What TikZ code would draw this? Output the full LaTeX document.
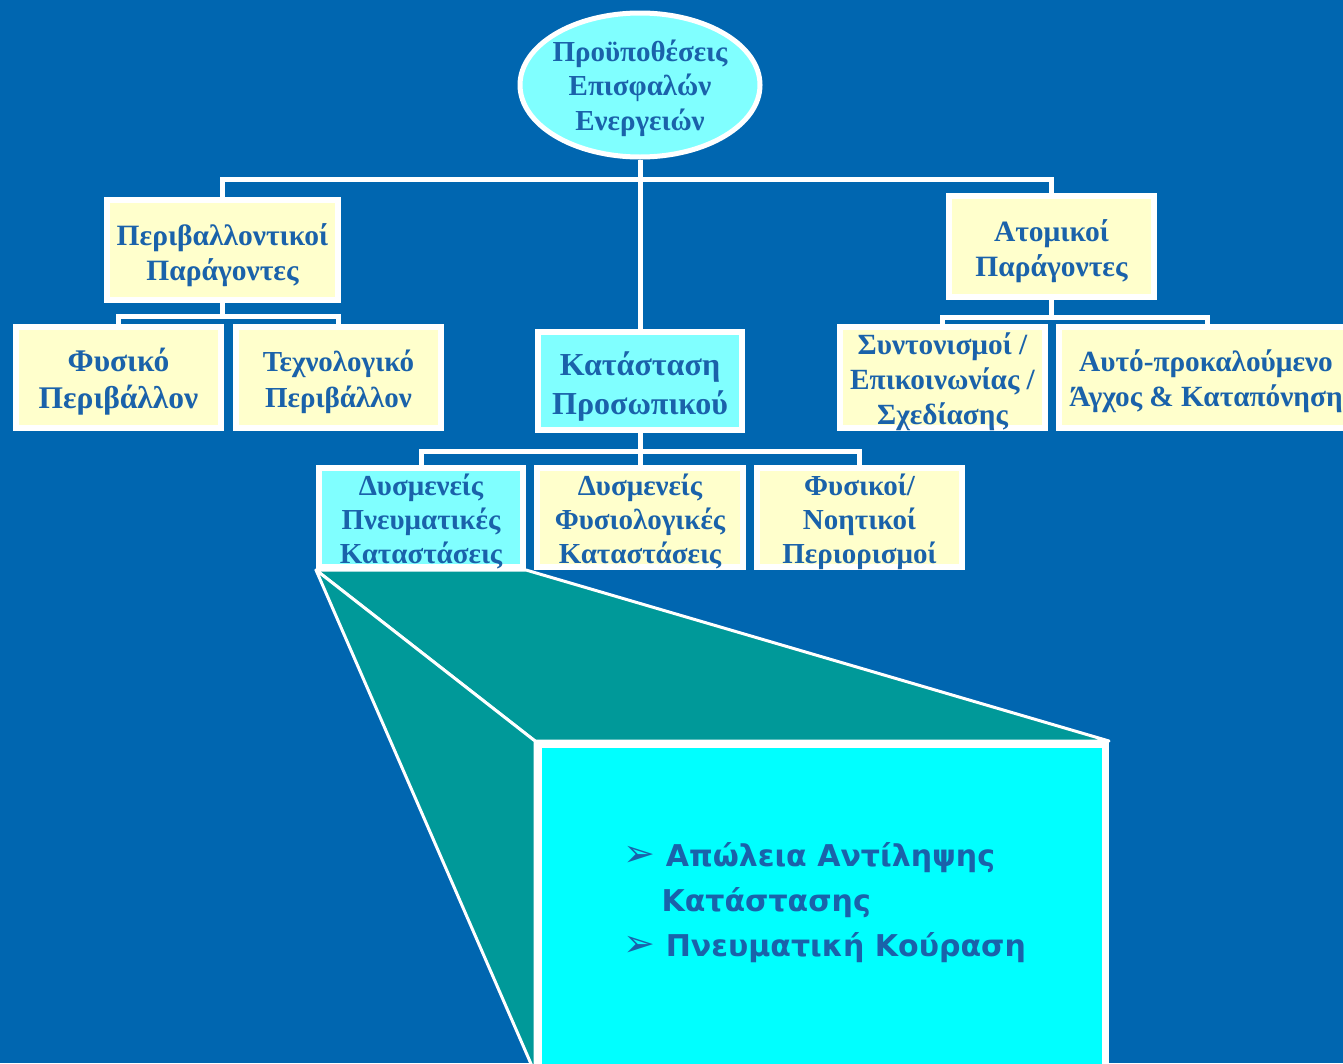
\documentclass[tikz,border=0pt]{standalone}
\usepackage{fontspec}
\setmainfont{Liberation Serif}
\newfontfamily\comicf{DejaVu Sans}
\usetikzlibrary{shapes.geometric}
\definecolor{bgblue}{HTML}{0066B0}
\definecolor{tealc}{HTML}{009999}
\definecolor{cyanbig}{HTML}{00FFFF}
\definecolor{lcyan}{HTML}{80FFFF}
\definecolor{lyellow}{HTML}{FFFFCC}
\definecolor{txtblue}{HTML}{1A62AA}
\pgfdeclarelayer{back}
\pgfdeclarelayer{bg}
\pgfsetlayers{back,bg,main}
\newcommand{\fsz}[2]{\bfseries\fontsize{#1}{#2}\selectfont}
\newcommand{\bul}{{\fontsize{38}{45}\selectfont ➢}}
\tikzset{
  ybox/.style={rectangle, draw=white, line width=6pt, fill=lyellow,
    inner sep=0pt, minimum width=205pt, minimum height=101pt},
  cbox/.style={ybox, fill=lcyan},
  ell/.style={ellipse, draw=white, line width=5pt, fill=lcyan,
    inner sep=0pt, minimum width=240pt, minimum height=144pt},
  lbl/.style={text=txtblue, align=center, inner sep=0pt},
  conn/.style={draw=white, line width=5pt},
  facet/.style={fill=tealc, draw=white, line width=3pt, line join=round}
}
\begin{document}
\begin{tikzpicture}[x=1pt,y=-1pt]
\begin{pgfonlayer}{back}
\fill[bgblue] (0,0) rectangle (1343,1063);
\end{pgfonlayer}
\useasboundingbox (0,0) rectangle (1343,1063);

% shapes
\node[ell] (root) at (640,85) {};
\node[ybox, minimum width=231pt, minimum height=100pt] (env) at (222.5,250) {};
\node[ybox] (fys) at (118.5,377.5) {};
\node[ybox] (tech) at (338.5,377.5) {};
\node[ybox] (ato) at (1051.5,246.5) {};
\node[ybox] (synt) at (942.5,377.5) {};
\node[ybox, minimum width=296pt] (auto) at (1207,377.5) {};
\node[cbox, minimum width=204pt, minimum height=98pt] (kat) at (640,381) {};
\node[cbox, minimum width=204pt, minimum height=99pt] (dpn) at (421,517.5) {};
\node[ybox, minimum width=206pt, minimum height=99pt] (dfy) at (640,517.5) {};
\node[ybox, minimum height=99pt] (fyn) at (859.5,517.5) {};
\node[rectangle, draw=white, line width=7pt, fill=cyanbig, inner sep=0pt,
  minimum width=567pt, minimum height=325pt] (big) at (822,907) {};

% texts
\node[lbl, font=\fsz{29}{34.5}] (roott) at ([yshift=-3pt]root.center) {Προϋποθέσεις\\Επισφαλών\\Ενεργειών};
\node[lbl, font=\fsz{29.5}{35}] (envt) at ([yshift=-5pt]env.center) {Περιβαλλοντικοί\\Παράγοντες};
\node[lbl, font=\fsz{31.5}{37}] (fyst) at ([yshift=-4pt]fys.center) {Φυσικό\\Περιβάλλον};
\node[lbl, font=\fsz{29}{36}] (techt) at ([yshift=-4pt]tech.center) {Τεχνολογικό\\Περιβάλλον};
\node[lbl, font=\fsz{29.5}{35}] (atot) at ([yshift=-5pt]ato.center) {Ατομικοί\\Παράγοντες};
\node[lbl, font=\fsz{29.3}{35}] (syntt) at ([yshift=-4pt]synt.center) {Συντονισμοί /\\Επικοινωνίας /\\Σχεδίασης};
\node[lbl, font=\fsz{29.3}{35}] (autot) at ([xshift=-1pt,yshift=-4pt]auto.center) {Αυτό-προκαλούμενο\\Άγχος \& Καταπόνηση};
\node[lbl, font=\fsz{32}{39}] (katt) at ([yshift=-6pt]kat.center) {Κατάσταση\\Προσωπικού};
\node[lbl, font=\fsz{29}{34}] (dpnt) at ([yshift=-4pt]dpn.center) {Δυσμενείς\\Πνευματικές\\Καταστάσεις};
\node[lbl, font=\fsz{29}{34}] (dfyt) at ([yshift=-4pt]dfy.center) {Δυσμενείς\\Φυσιολογικές\\Καταστάσεις};
\node[lbl, font=\fsz{29}{34}] (fynt) at ([yshift=-4pt]fyn.center) {Φυσικοί/\\Νοητικοί\\Περιορισμοί};

\node[anchor=west, align=left, text=txtblue, font=\comicf\bfseries\fontsize{30}{45}\selectfont]
  (blist) at (620,903) {\bul\ Απώλεια Αντίληψης\\\hspace{38pt}Κατάστασης\\\bul\ Πνευματική Κούραση};

% connectors
\coordinate (bus1) at (640,179);
\coordinate (bus2) at (228,316);
\coordinate (bus3) at (1076,317);
\coordinate (bus4) at (640,451);
\draw[conn] (root.south) -- (kat.north);
\draw[conn] (env.north) |- (bus1) -| (ato.north);
\draw[conn] (env.south) -- (env.south |- bus2);
\draw[conn] (fys.north) |- (bus2) -| (tech.north);
\draw[conn] (ato.south) -- (ato.south |- bus3);
\draw[conn] (synt.north) |- (bus3) -| (auto.north);
\draw[conn] (kat.south) -- (bus4);
\draw[conn] (dpn.north) |- (bus4) -| (fyn.north);
\draw[conn] (dfy.north) -- (bus4);

\begin{pgfonlayer}{bg}
\path[facet] (dpn.south west) -- (dpn.south east) -- (big.north east) -- (big.north west) -- cycle;
\path[facet] (dpn.south west) -- (big.north west) -- (big.south west) -- cycle;
\end{pgfonlayer}
\end{tikzpicture}
\end{document}
